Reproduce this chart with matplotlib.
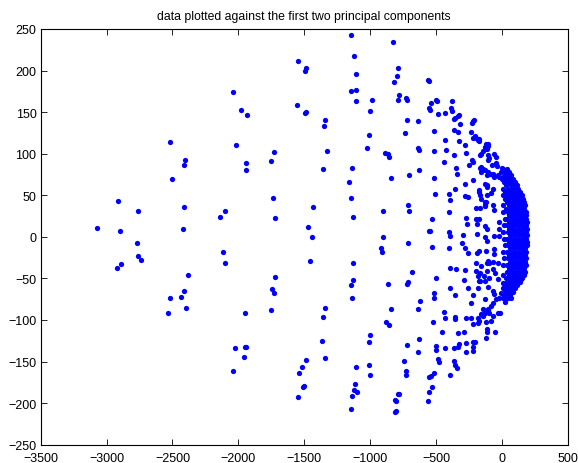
import numpy as np
import matplotlib
matplotlib.use("Agg")
import matplotlib.pyplot as plt

# scattered points (first PC, second PC)
outer_x = [-2043, -1977, -1932, -2518, -2018, -2402, -2409, -1940, -1940, -2505,
           -2914, -2763, -2414, -2099, -2139, -3071, -2420, -2897, -2771, -2761,
           -2738, -2924, -2892, -2117, -2104, -2382, -2409, -2518, -2432, -2397,
           -2536, -1950, -2028, -1952, -1945, -1955, -2043]
outer_y = [174, 152, 146, 114, 110, 92, 86, 89, 80, 70,
           43, 31, 36, 31, 24, 11, 9, 7, -8, -23,
           -28, -37, -33, -18, -31, -46, -65, -74, -72, -85,
           -91, -92, -134, -132, -133, -144, -161]

mid_x = [-1144, -826, -1121, -1551, -1485, -1498, -791, -1111, -795, -821,
         -1144, -1104, -1104, -988, -780, -791, -730, -720, -1556, -1492,
         -1483, -1003, -1344, -1351, -717, -738, -1005, -1026, -1727, -1750,
         -1326, -1356, -884, -867, -859, -1139, -1164, -844, -708, -1738,
         -1435, -1144, -1725, -1129, -905, -715, -708, -1475,
         -1440, -905, -712, -920, -907, -1458, -1129, -1725, -1132, -1144,
         -861, -720, -710, -1743, -1733, -1136, -1339, -1750, -1356, -844,
         -879, -854, -1000, -1011, -1364, -717, -1341, -1485, -1520, -1541,
         -1505, -1513, -1551, -1109, -1011, -1000, -1114, -1124, -1096, -1136,
         -1149, -745, -725, -727, -791, -778, -811, -806, -814, -801]
mid_y = [243, 234, 218, 212, 203, 200, 203, 196, 193, 186,
         175, 177, 163, 165, 170, 164, 167, 165, 158, 149,
         150, 151, 140, 133, 140, 125, 123, 107, 102, 91,
         103, 82, 101, 100, 96, 83, 66, 71, 74, 47,
         36, 47, 23, 24, 31, 38, 31, 12,
         0, 0, -8, -14, -18, -29, -32, -48, -52, -58,
         -57, -57, -54, -63, -67, -73, -86, -88, -96, -87,
         -103, -106, -118, -126, -125, -130, -146, -148, -157, -164,
         -179, -180, -193, -156, -154, -166, -177, -184, -186, -192,
         -207, -149, -161, -166, -189, -189, -196, -198, -211, -210]

inner_x = [-564, -552, -500, -495, -538, -556, -545, -379, -386, -379,
           -485, -430, -323, -336, -367, -354, -318, -212, -223, -227,
           -639, -515, -361, -333, -235, -435, -326, -223, -197, -182,
           -202, -278, -121, -127, -117, -636, -629, -513, -427, -367,
           -273, -159, -230, -217, -437, -348, -248, -164, -152, -127,
           -627, -515, -344, -102,
           -172, -172, -109, -102, -129, -142, -102, -96, -58, -45,
           -164, -79, -45, -41, -3, 12, -159, -142, -109, -89,
           -71, -33, -20, 5,
           -508, -405, -394, -356, -280, -223, -280, -261, -177, -167,
           -117, -117, -405, -197, -167, -127, -127, -530, -551, -543,
           -405, -394, -273, -268, -197, -192, -127, -117, -293, -189,
           -306, -280, -261, -189, -177, -533, -405, -197, -117, -682,
           -394, -348, -280, -197, -180, -164, -117, -500, -286, -394,
           -261, -182,
           -159, -117, -71, -58, -127, -114, -71, -83, -172, -159,
           -121, -129, -66, -58, -172, -127, -117, -58, -58, -64,
           -121, -109, -96, -71, -159, -134, -96, -71, -51, -33,
           -33, 5, -172, 144, -20, -20, -20,
           -518, -518, -354, -235, -223, -127, -109, -127, -147, -621,
           -639, -437, -430, -359, -354, -273, -235, -223, -185, -172,
           -185, -159, -121, -114, -117, -121, -526, -458, -336, -291,
           -629, -634, -500, -500, -430, -367, -331, -323, -273, -273,
           -223, -202, -217, -217, -488, -480, -367, -356, -344, -394,
           -556, -538, -518, -533, -551, -564,
           -164, -127, -102, -71, -58, -45, -20, -8, 17, 42,
           68, 80, 55, 30, 5, 80, 106, 131, -71, -83,
           -147, -109, -33, -15, -96, -142, -71, -83, -51]
inner_y = [189, 187, 164, 163, 161, 155, 153, 163, 155, 151,
           148, 149, 147, 145, 142, 143, 136, 141, 139, 137,
           139, 127, 128, 126, 126, 117, 115, 119, 119, 117,
           121, 111, 112, 108, 106, 107, 105, 103, 105, 98,
           101, 100, 92, 90, 90, 83, 86, 83, 81, 80,
           80, 71, 75, 93,
           118, 115, 112, 109, 106, 103, 98, 95, 100, 96,
           98, 86, 89, 85, 83, 80, 84, 81, 78, 76,
           74, 74, 72, 72,
           52, 52, 44, 58, 63, 68, 49, 48, 56, 50,
           62, 50, 30, 35, 35, 42, 37, 22, 7, 7,
           6, 1, 23, 16, 22, 15, 13, 10, 2, 3,
           -7, -13, -20, -19, -17, -12, -14, -31, -32, -42,
           -37, -39, -40, -41, -47, -44, -41, -50, -52, -62,
           -62, -62,
           78, 74, 76, 72, 64, 60, 58, 53, 54, 46,
           42, 38, 38, 32, 22, 0, -5, 1, -15, -21,
           -17, -29, -31, -30, -35, -47, -49, -39, -43, -31,
           -51, -55, -53, -51, 18, 9, 1,
           -67, -74, -70, -79, -70, -75, -87, -91, -94, -77,
           -87, -90, -97, -96, -99, -97, -98, -105, -97, -101,
           -104, -93, -103, -111, -115, -122, -103, -114, -116, -114,
           -123, -139, -131, -136, -134, -134, -133, -129, -128, -139,
           -126, -127, -133, -137, -147, -151, -149, -154, -158, -166,
           -169, -167, -164, -181, -186, -197,
           -53, -53, -60, -65, -69, -75, -73, -67, -71, -73,
           -73, -65, -59, -55, -61, -55, -57, -53, -79, -83,
           -87, -88, -91, -91, -91, -95, -95, -101, -114]

# the packed cluster near the origin, read row by row (pc2 level, pc1 values)
core_rows = [
    (82, [10, 40]), (78, [-5, 25, 55]), (74, [20, 45, 70]),
    (70, [0, 35, 60, 85]), (66, [15, 50, 80, 100]), (62, [30, 65, 95, 115]),
    (58, [10, 45, 75, 105, 125]), (54, [25, 60, 90, 120, 140]),
    (50, [5, 40, 70, 100, 130, 150]), (46, [20, 55, 85, 115, 140, 160]),
    (42, [35, 65, 95, 125, 150, 165]), (38, [10, 50, 80, 110, 140, 160, 175]),
    (34, [30, 60, 90, 120, 150, 170]), (30, [5, 45, 75, 105, 135, 160, 180]),
    (26, [55, 85, 115, 145, 170, 185]), (22, [20, 40, 70, 100, 130, 160, 185]),
    (18, [50, 80, 110, 140, 165, 190]), (14, [15, 35, 65, 95, 125, 155, 180]),
    (10, [55, 85, 115, 145, 170, 190]), (6, [10, 45, 75, 105, 135, 160, 185]),
    (2, [60, 90, 120, 150, 175, 192]), (-2, [15, 40, 70, 100, 130, 160, 185]),
    (-6, [55, 85, 115, 145, 170, 190]), (-10, [20, 45, 75, 105, 135, 165, 188]),
    (-14, [60, 90, 120, 150, 178]), (-18, [5, 40, 70, 100, 130, 160, 185]),
    (-22, [55, 85, 115, 145, 175]), (-26, [15, 45, 75, 105, 135, 165, 185]),
    (-30, [60, 90, 120, 150, 175]), (-34, [10, 40, 70, 100, 130, 160, 180]),
    (-38, [55, 85, 115, 145, 170]), (-42, [35, 65, 95, 125, 155, 175]),
    (-46, [10, 50, 80, 110, 140, 165]), (-50, [30, 60, 90, 120, 150]),
    (-54, [45, 75, 105, 135]), (-58, [25, 55, 85, 115]),
    (-62, [40, 70, 100]), (-66, [20, 50, 85]), (-70, [35, 60]),
    (-74, [10, 45]), (-78, [25]),
]

core_x = [x for lvl, row in core_rows for x in row]
core_y = [lvl for lvl, row in core_rows for x in row]

pc1 = np.array(outer_x + mid_x + inner_x + core_x)
pc2 = np.array(outer_y + mid_y + inner_y + core_y)

plt.rcParams['font.family'] = ['Liberation Sans', 'DejaVu Sans']

fig = plt.figure(figsize=(5.78, 4.64), dpi=100)
ax = fig.add_axes([0.0704, 0.0394, 0.912, 0.896])

ax.plot(pc1, pc2, 'o', color=(0, 0, 1), ms=3.8, mew=0)

ax.set_xlim(-3500, 500)
ax.set_ylim(-250, 250)
ax.set_xticks(np.arange(-3500, 501, 500))
ax.set_yticks(np.arange(-250, 251, 50))

ax.tick_params(direction='in', length=4, width=0.6, labelsize=9,
               top=True, right=True, pad=3)
ax.tick_params(axis='x', pad=5)
for s in ax.spines.values():
    s.set_linewidth(0.8)

ax.set_title('data plotted against the first two principal components',
             fontsize=8.8, pad=7)

fig.savefig('out.png', dpi=100)
